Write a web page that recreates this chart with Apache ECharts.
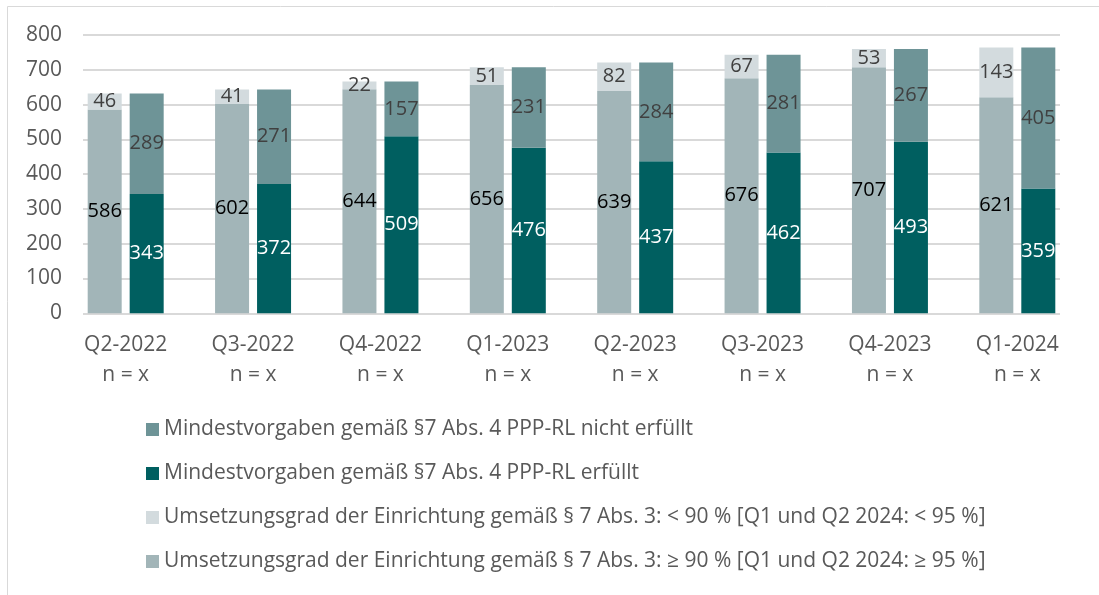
<!DOCTYPE html>
<html><head><meta charset="utf-8">
<script src="https://cdn.jsdelivr.net/npm/echarts@6/dist/echarts.min.js"></script>
<style>html,body{margin:0;padding:0;background:#fff}#c{width:1099px;height:595px}</style>
</head><body><div id="c"></div>
<script>
const categories = ['Q2-2022','Q3-2022','Q4-2022','Q1-2023','Q2-2023','Q3-2023','Q4-2023','Q1-2024'];
const nLabel = 'n = x';
const umsetzungHoch = [586, 602, 644, 656, 639, 676, 707, 621];
const umsetzungNiedrig = [46, 41, 22, 51, 82, 67, 53, 143];
const erfuellt = [343, 372, 509, 476, 437, 462, 493, 359];
const nichtErfuellt = [289, 271, 157, 231, 284, 281, 267, 405];
const yTicks = [0, 100, 200, 300, 400, 500, 600, 700, 800];

const names = {
  nicht: 'Mindestvorgaben gemäß §7 Abs. 4 PPP-RL nicht erfüllt',
  erf: 'Mindestvorgaben gemäß §7 Abs. 4 PPP-RL erfüllt',
  low: 'Umsetzungsgrad der Einrichtung gemäß § 7 Abs. 3: < 90 % [Q1 und Q2 2024: < 95 %]',
  high: 'Umsetzungsgrad der Einrichtung gemäß § 7 Abs. 3: ≥ 90 % [Q1 und Q2 2024: ≥ 95 %]'
};
const FONT = 'Open Sans';
const FS = 21;
const chart = echarts.init(document.getElementById('c'));
function lbl(color){ return {show:true, position:'inside', color:color, fontFamily:FONT, fontSize:20}; }
chart.setOption({
  animation:false,
  textStyle:{fontFamily:FONT},
  graphic:[{type:'rect', shape:{x:7.5,y:6.5,width:1200,height:1000}, style:{fill:'none', stroke:'#d9d9d9', lineWidth:1}, z:-10}],
  grid:[
    {left:62, right:18, top:35, bottom:281.7},
    {left:83, right:39, top:35, bottom:281.7}
  ],
  xAxis:[
    {type:'category', gridIndex:0, data:categories, axisLine:{show:false}, axisTick:{show:false},
     axisLabel:{color:'#595959', fontFamily:FONT, fontSize:FS, margin:17, lineHeight:30,
       formatter:v=>v+'\n'+nLabel}},
    {type:'category', gridIndex:1, data:categories, show:false}
  ],
  yAxis:[
    {type:'value', gridIndex:0, min:yTicks[0], max:yTicks[yTicks.length-1], interval:100, show:false},
    {type:'value', gridIndex:1, min:yTicks[0], max:yTicks[yTicks.length-1], interval:100,
     axisLine:{show:false}, axisTick:{show:false},
     splitLine:{lineStyle:{color:'#d9d9d9', width:2}},
     axisLabel:{color:'#595959', fontFamily:FONT, fontSize:FS, margin:21}}
  ],
  legend:{
    orient:'vertical', left:141, top:414, itemGap:23, itemWidth:13, itemHeight:13, icon:'rect',
    textStyle:{color:'#595959', fontFamily:FONT, fontSize:FS},
    data:[names.nicht, names.erf, names.low, names.high]
  },
  series:[
    {name:names.high, type:'bar', stack:'a', data:umsetzungHoch, barWidth:34, barGap:'23.5%',
     itemStyle:{color:'#a2b5b8'}, label:lbl('#000000')},
    {name:names.low, type:'bar', stack:'a', data:umsetzungNiedrig, barWidth:34,
     itemStyle:{color:'#d3dbde'}, label:lbl('#404040')},
    {name:names.erf, type:'bar', stack:'b', data:erfuellt, barWidth:34,
     itemStyle:{color:'#005f60'}, label:lbl('#ffffff')},
    {name:names.nicht, type:'bar', stack:'b', data:nichtErfuellt, barWidth:34,
     itemStyle:{color:'#6e9497'}, label:lbl('#404040')}
  ]
});
</script></body></html>
